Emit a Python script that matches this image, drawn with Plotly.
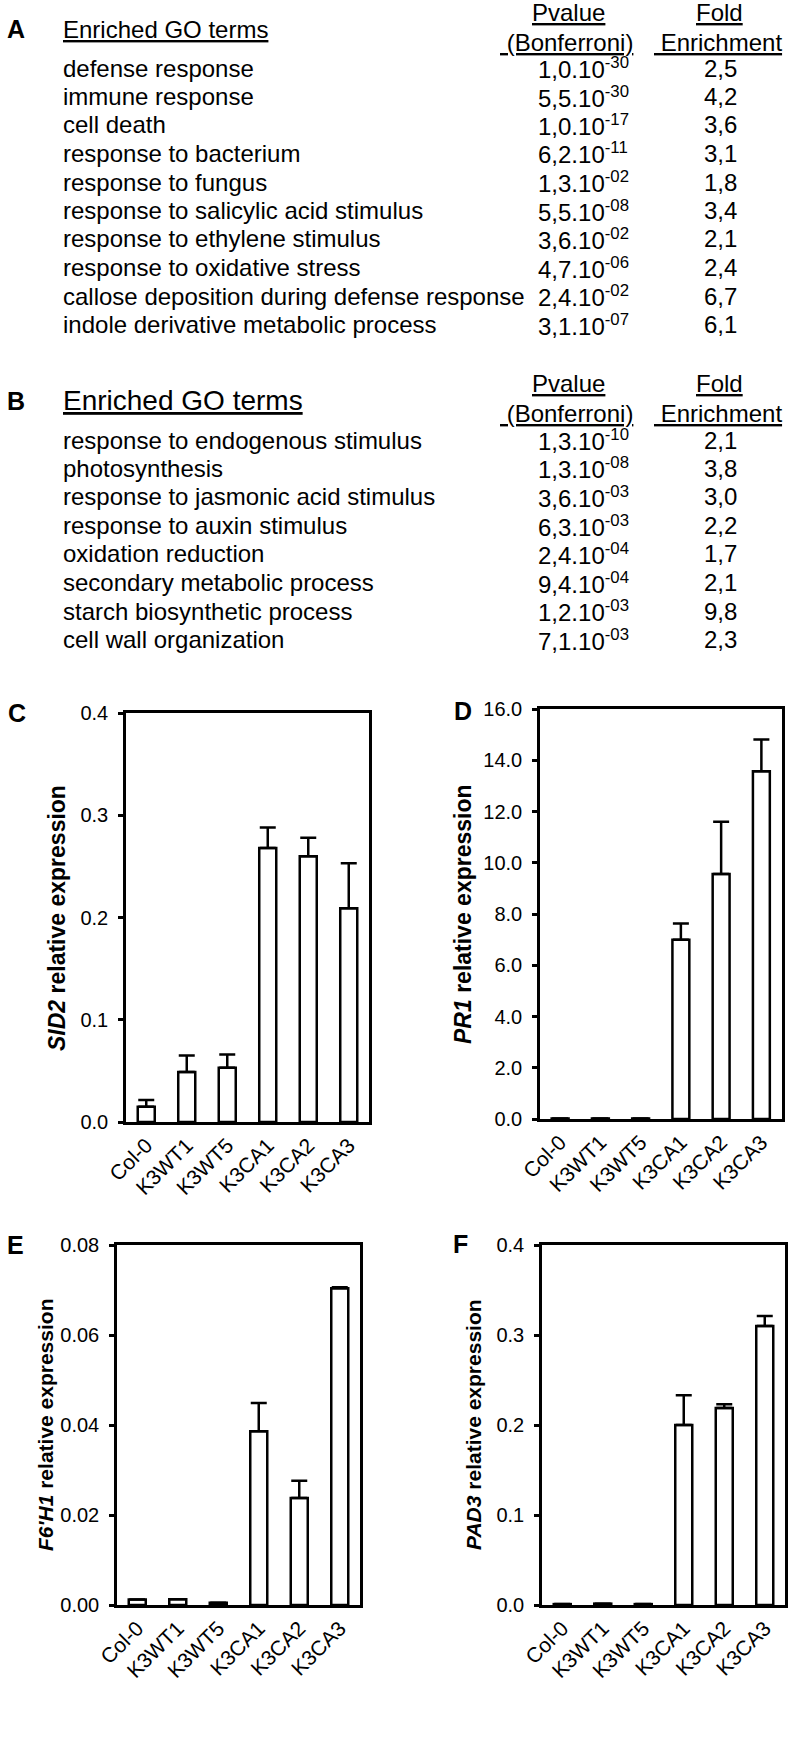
import plotly.graph_objects as go

W, H = 789, 1753
FONT = "Liberation Sans, Arial, sans-serif"

# ---- panel A: GO terms (up-regulated) ----
terms_a = [
    "defense response", "immune response", "cell death", "response to bacterium",
    "response to fungus", "response to salicylic acid stimulus",
    "response to ethylene stimulus", "response to oxidative stress",
    "callose deposition during defense response", "indole derivative metabolic process",
]
pval_a = ["1,0", "5,5", "1,0", "6,2", "1,3", "5,5", "3,6", "4,7", "2,4", "3,1"]
pexp_a = ["-30", "-30", "-17", "-11", "-02", "-08", "-02", "-06", "-02", "-07"]
fold_a = ["2,5", "4,2", "3,6", "3,1", "1,8", "3,4", "2,1", "2,4", "6,7", "6,1"]

# ---- panel B: GO terms (down-regulated) ----
terms_b = [
    "response to endogenous stimulus", "photosynthesis", "response to jasmonic acid stimulus",
    "response to auxin stimulus", "oxidation reduction", "secondary metabolic process",
    "starch biosynthetic process", "cell wall organization",
]
pval_b = ["1,3", "1,3", "3,6", "6,3", "2,4", "9,4", "1,2", "7,1"]
pexp_b = ["-10", "-08", "-03", "-03", "-04", "-04", "-03", "-03"]
fold_b = ["2,1", "3,8", "3,0", "2,2", "1,7", "2,1", "9,8", "2,3"]

# ---- panels C-F: qRT-PCR ----
lines = ["Col-0", "K3WT1", "K3WT5", "K3CA1", "K3CA2", "K3CA3"]

sid2 = [0.015, 0.049, 0.053, 0.268, 0.260, 0.209]
sid2_err = [0.0065, 0.016, 0.013, 0.020, 0.018, 0.044]

pr1 = [0.02, 0.02, 0.02, 7.0, 9.56, 13.57]
pr1_err = [0.0, 0.0, 0.0, 0.63, 2.04, 1.24]

f6h1 = [0.0012, 0.0013, 0.0005, 0.0386, 0.0238, 0.0704]
f6h1_err = [0.0, 0.0, 0.0, 0.0063, 0.0038, 0.0002]

pad3 = [0.001, 0.0015, 0.001, 0.200, 0.219, 0.310]
pad3_err = [0.0, 0.0, 0.0, 0.033, 0.004, 0.011]


def px(x):
    return x / W


def py(y):
    return 1 - y / H


fig = go.Figure()


def txt(x, y, s, size=24, xanchor="left", angle=0):
    fig.add_annotation(
        x=px(x), y=py(y), xref="paper", yref="paper", text=s, showarrow=False,
        xanchor=xanchor, yanchor="middle", textangle=angle,
        font=dict(family=FONT, size=size, color="black"),
    )


def go_table(top, letter, header_size, terms, pvals, pexps, folds):
    """top = y of the first header line, rows start below."""
    txt(16, top + 9, f"<b>{letter}</b>", size=25, xanchor="center")
    txt(61, top + 9, "<u>Enriched GO terms</u>", size=header_size)
    txt(568, top - 8, "<u>Pvalue</u>", xanchor="center")
    txt(566, top + 22, "<u>&nbsp;(Bonferroni)</u>", xanchor="center")
    txt(719, top - 8, "<u>Fold</u>", xanchor="center")
    txt(718, top + 22, "<u>&nbsp;Enrichment</u>", xanchor="center")
    for i, (t, m, e, f) in enumerate(zip(terms, pvals, pexps, folds)):
        y = top + 48 + 28.5 * i
        txt(61, y, t)
        txt(536, y, f"{m}.10<sup>{e}</sup>")
        txt(720, y, f, xanchor="center")


go_table(20, "A", 24, terms_a, pval_a, pexp_a, fold_a)
go_table(392, "B", 28, terms_b, pval_b, pexp_b, fold_b)


# bar panels: (values, errors, x px range, y px range, ymax, dtick, fmt, title, title size, title pos, letter)
panels = [
    (sid2, sid2_err, (126, 369), (713, 1122), 0.4, 0.1, ".1f",
     "<b><i>SID2</i> relative expression</b>", 23, (57, 918), ("C", 17, 713)),
    (pr1, pr1_err, (540, 781.5), (709, 1119), 16.0, 2.0, ".1f",
     "<b><i>PR1</i> relative expression</b>", 23, (463, 914), ("D", 463, 711)),
    (f6h1, f6h1_err, (117, 360), (1245, 1605), 0.08, 0.02, ".2f",
     "<b><i>F6'H1</i> relative expression</b>", 21, (45, 1425), ("E", 15, 1245)),
    (pad3, pad3_err, (542, 785), (1245, 1605), 0.4, 0.1, ".1f",
     "<b><i>PAD3</i> relative expression</b>", 21, (473, 1425), ("F", 460, 1244)),
]

layout_axes = {}
for k, (vals, err, xr, yr, ymax, dtick, fmt, title, tsize, tpos, lab) in enumerate(panels, start=1):
    sfx = "" if k == 1 else str(k)
    fig.add_trace(go.Bar(
        x=lines,
        y=vals,
        xaxis="x" + sfx,
        yaxis="y" + sfx,
        width=0.42,
        marker=dict(color="white", line=dict(color="black", width=2.5)),
        error_y=dict(type="data", array=err, arrayminus=[0] * len(err), symmetric=False,
                     color="black", thickness=2.5, width=8),
        hovertemplate="%{x}: %{y}<extra></extra>",
    ))
    layout_axes["xaxis" + sfx] = dict(
        domain=[px(xr[0]), px(xr[1])], anchor="y" + sfx, type="category",
        range=[-0.5, 5.5], tickangle=-45, ticks="", automargin=False,
        showline=True, linecolor="black", linewidth=2.5, mirror=True,
        showgrid=False, zeroline=False,
        tickfont=dict(family=FONT, size=21, color="black"),
    )
    layout_axes["yaxis" + sfx] = dict(
        domain=[py(yr[1]), py(yr[0])], anchor="x" + sfx,
        range=[0, ymax], dtick=dtick, tick0=0, tickformat=fmt,
        ticks="outside", ticklen=5, tickwidth=2.5, tickcolor="black",
        ticklabelstandoff=6, automargin=False,
        showline=True, linecolor="black", linewidth=2.5, mirror=True,
        showgrid=False, zeroline=False,
        tickfont=dict(family=FONT, size=20, color="black"),
    )
    txt(tpos[0], tpos[1], title, size=tsize, xanchor="center", angle=-90)
    txt(lab[1], lab[2], f"<b>{lab[0]}</b>", size=25, xanchor="center")

fig.update_layout(
    width=W,
    height=H,
    margin=dict(l=0, r=0, t=0, b=0),
    showlegend=False,
    plot_bgcolor="white",
    paper_bgcolor="white",
    font=dict(family=FONT, color="black"),
    **layout_axes,
)

# the page's default body margin would push the 789px figure past the window edge
fig.write_html(
    "out.html",
    config={"displayModeBar": False},
    post_script="document.body.style.margin = '0';",
)
